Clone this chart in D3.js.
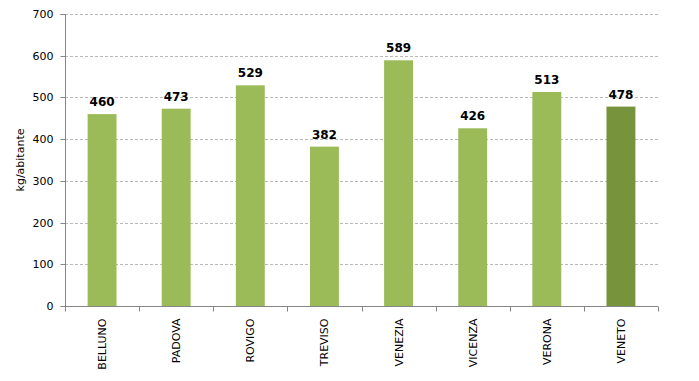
<!DOCTYPE html>
<html><head><meta charset="utf-8">
<script src="https://cdn.jsdelivr.net/npm/d3@7"></script>
<style>body{margin:0;background:#fff}svg{display:block}</style>
</head><body>
<svg id="c" width="699" height="381"></svg>
<script>
const categories = ["BELLUNO","PADOVA","ROVIGO","TREVISO","VENEZIA","VICENZA","VERONA","VENETO"];
const values = [460,473,529,382,589,426,513,478];
const yTicks = [0,100,200,300,400,500,600,700];
const yLabel = "kg/abitante";

const svg = d3.select("#c");
const m = {l:65, r:41, t:14, b:75};
const W = 699, H = 381;
const x = d3.scaleBand().domain(categories).range([m.l, W-m.r]).paddingInner(0.61).paddingOuter(0.305);
const xb = d3.scaleBand().domain(categories).range([m.l, W-m.r]);
const y = d3.scaleLinear().domain([0,700]).range([H-m.b, m.t]);
const font = "DejaVu Sans, Verdana, sans-serif";

// grid
svg.append("g").selectAll("line").data(yTicks.filter(d=>d>0)).join("line")
  .attr("x1", m.l).attr("x2", W-m.r)
  .attr("y1", d=>Math.round(y(d))+0.5).attr("y2", d=>Math.round(y(d))+0.5)
  .attr("stroke","#b9b9b9").attr("stroke-dasharray","3,2");

// bars
svg.append("g").selectAll("rect").data(values).join("rect")
  .attr("x",(d,i)=>x(categories[i])).attr("width",x.bandwidth())
  .attr("y",d=>y(d)).attr("height",d=>y(0)-y(d))
  .attr("fill",(d,i)=>categories[i]==="VENETO"?"#77933C":"#9BBB59");

// value labels
svg.append("g").selectAll("text").data(values).join("text")
  .attr("x",(d,i)=>x(categories[i])+x.bandwidth()/2).attr("y",d=>y(d)-8)
  .attr("text-anchor","middle").attr("font-family",font).attr("font-weight","bold")
  .attr("font-size","12px").attr("fill","#000").text(d=>d);

// y axis
const ya = svg.append("g").attr("transform",`translate(${m.l+0.5},0)`)
  .call(d3.axisLeft(y).tickValues(yTicks).tickSize(5).tickPadding(7));
ya.select(".domain").attr("stroke","#868686").attr("d",`M-5,${y(700)+0.5}H0V${y(0)}`);
ya.selectAll(".tick line").attr("stroke","#868686");
ya.selectAll(".tick").attr("transform",d=>`translate(0,${Math.round(y(d))+0.5})`);
ya.selectAll("text").attr("font-family",font).attr("font-size","11px").attr("fill","#000");

// x axis
const xa = svg.append("g").attr("transform",`translate(0,${Math.round(y(0))+0.5})`);
xa.append("line").attr("x1",m.l).attr("x2",W-m.r).attr("stroke","#868686");
const edges = categories.map(c=>xb(c)).concat([W-m.r]);
xa.selectAll("line.t").data(edges).join("line").attr("class","t")
  .attr("x1",d=>Math.round(d)+0.5).attr("x2",d=>Math.round(d)+0.5).attr("y1",0).attr("y2",5)
  .attr("stroke","#868686");
xa.selectAll("text").data(categories).join("text")
  .attr("transform",d=>`translate(${xb(d)+xb.bandwidth()/2+4},12) rotate(-90)`)
  .attr("text-anchor","end").attr("font-family",font).attr("font-size","11px").attr("fill","#000")
  .text(d=>d);

// y label
svg.append("text").attr("transform",`translate(24,${(y(0)+y(700))/2}) rotate(-90)`)
  .attr("text-anchor","middle").attr("font-family",font).attr("font-size","11px").text(yLabel);
</script>
</body></html>
